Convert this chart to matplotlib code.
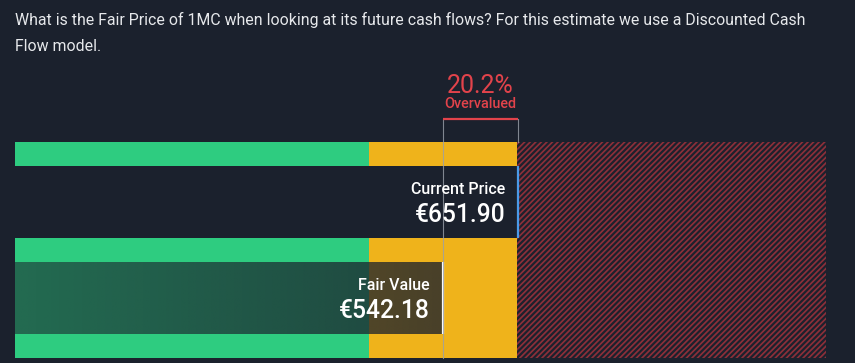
import numpy as np
import matplotlib
matplotlib.use("Agg")
import matplotlib.pyplot as plt
from matplotlib.patches import Rectangle

# ---- data ----
title_lines = ["What is the Fair Price of 1MC when looking at its future cash flows? For this estimate we use a Discounted Cash",
               "Flow model."]
fair_value = 542.18
current_price = 651.90
diff_pct = 20.2
diff_label = "Overvalued"
zone_edges = [-84.0, 433.7, 650.6, 1102.5]   # green / yellow / red zones
zone_names = ["undervalued", "about right", "overvalued"]

# ---- style ----
BG = "#1b212d"
GREEN = "#2ecc80"
YELLOW = "#efb31b"
RED = "#8c2f39"
RED_TXT = "#e2434b"
W, H = 855, 363

plt.rcParams['font.family'] = ['Roboto', 'DejaVu Sans']
plt.rcParams['hatch.linewidth'] = 1.25

fig = plt.figure(figsize=(W / 100, H / 100), dpi=100, facecolor=BG)
ax = fig.add_axes([0, 0, 1, 1])
ax.set_facecolor(BG)
# pixel mapping: x_px = 72.39 + 0.68356 * value
b, a = 0.68356, 72.39
ax.set_xlim((0 - a) / b, (W - a) / b)
ax.set_ylim(H, 0)
ax.axis('off')

top, bottom = 142, 358
# zones
ax.add_patch(Rectangle((zone_edges[0], top), zone_edges[1] - zone_edges[0], bottom - top,
                       facecolor=GREEN, edgecolor='none', zorder=1))
ax.add_patch(Rectangle((zone_edges[1], top), zone_edges[2] - zone_edges[1], bottom - top,
                       facecolor=YELLOW, edgecolor='none', zorder=1))
ax.add_patch(Rectangle((zone_edges[2], top), zone_edges[3] - zone_edges[2], bottom - top,
                       facecolor=BG, edgecolor=RED, hatch='//////', linewidth=0, zorder=1))

# current price band
cp_y0, cp_y1 = 166, 238
ax.add_patch(Rectangle((zone_edges[0], cp_y0), current_price - zone_edges[0], cp_y1 - cp_y0,
                       facecolor=BG, edgecolor='none', zorder=2))
ax.plot([current_price, current_price], [cp_y0, cp_y1], color="#4a9ae8", lw=1.6, zorder=3,
        solid_capstyle='butt')

# fair value band (semi-transparent gradient overlay)
fv_y0, fv_y1 = 262, 334
n = 256
bg_rgb = np.array(matplotlib.colors.to_rgb(BG))
grad = np.zeros((1, n, 4))
grad[..., :3] = bg_rgb
grad[..., 3] = np.linspace(0.57, 0.79, n)
ax.imshow(grad, extent=[zone_edges[0], fair_value, fv_y1, fv_y0], aspect='auto',
          interpolation='bilinear', zorder=2)
ax.plot([fair_value, fair_value], [fv_y0, fv_y1], color="white", lw=1.6, zorder=3,
        solid_capstyle='butt')

# thin guide lines and bracket
ax.plot([fair_value, fair_value], [119, bottom], color="#9aa0aa", lw=0.8, alpha=0.8, zorder=4)
ax.plot([current_price, current_price], [119, top], color="#9aa0aa", lw=0.8, alpha=0.8, zorder=4)
ax.plot([fair_value, current_price], [119, 119], color=RED_TXT, lw=1.6, zorder=5,
        solid_capstyle='butt')

# labels
mid = (fair_value + current_price) / 2
ax.annotate(f"{diff_pct}%", (mid, 93), ha='center', va='baseline', color=RED_TXT,
            fontsize=18)
ax.annotate(diff_label, (mid, 108), ha='center', va='baseline', color=RED_TXT,
            fontsize=10.4, fontweight='medium')

ax.annotate("Current Price", (current_price, 194), xytext=(-13, 0), textcoords='offset pixels',
            ha='right', va='baseline', color='white', fontsize=11.5, fontweight='medium', zorder=6)
ax.annotate(f"€{current_price:.2f}", (current_price, 222), xytext=(-13, 0), textcoords='offset pixels',
            ha='right', va='baseline', color='white', fontsize=17.7, fontweight='medium', zorder=6)
ax.annotate("Fair Value", (fair_value, 290), xytext=(-13, 0), textcoords='offset pixels',
            ha='right', va='baseline', color='white', fontsize=11.5, fontweight='medium', zorder=6)
ax.annotate(f"€{fair_value:.2f}", (fair_value, 318), xytext=(-13, 0), textcoords='offset pixels',
            ha='right', va='baseline', color='white', fontsize=17.7, fontweight='medium', zorder=6)

# title
fig.text(15 / W, 1 - 25 / H, title_lines[0], color="#e6e8eb", fontsize=11.4, va='baseline', ha='left')
fig.text(15 / W, 1 - 51 / H, title_lines[1], color="#e6e8eb", fontsize=11.4, va='baseline', ha='left')

fig.savefig("out.png", dpi=100, facecolor=BG)
